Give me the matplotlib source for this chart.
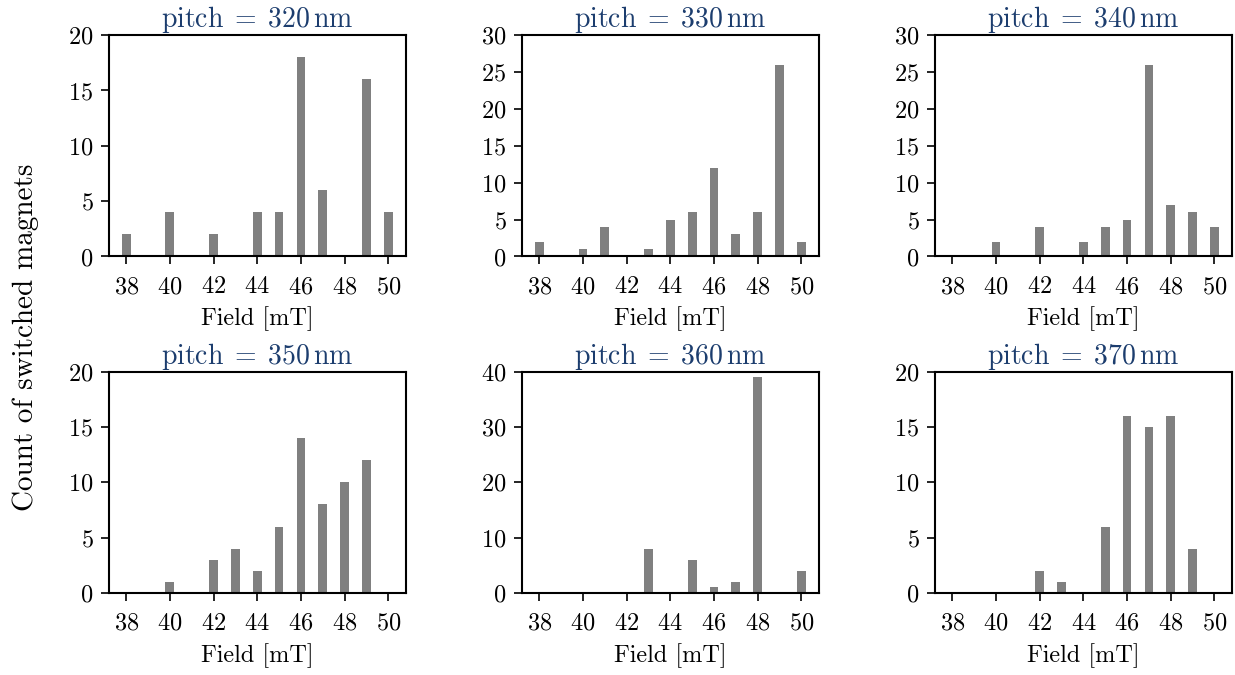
import numpy as np
import matplotlib
matplotlib.use("Agg")
import matplotlib.pyplot as plt

# field values [mT]
fields = np.arange(38, 51)

# counts of switched magnets per pitch (fields 38..50)
counts_320 = [2, 0, 4, 0, 2, 0, 4, 4, 18, 6, 0, 16, 4]
counts_330 = [2, 0, 1, 4, 0, 1, 5, 6, 12, 3, 6, 26, 2]
counts_340 = [0, 0, 2, 0, 4, 0, 2, 4, 5, 26, 7, 6, 4]
counts_350 = [0, 0, 1, 0, 3, 4, 2, 6, 14, 8, 10, 12, 0]
counts_360 = [0, 0, 0, 0, 0, 8, 0, 6, 1, 2, 39, 0, 4]
counts_370 = [0, 0, 0, 0, 2, 1, 0, 6, 16, 15, 16, 4, 0]

pitches = [320, 330, 340, 350, 360, 370]
all_counts = [counts_320, counts_330, counts_340, counts_350, counts_360, counts_370]
y_limits = [20, 30, 30, 20, 40, 20]
y_steps = [5, 5, 5, 5, 10, 5]

plt.rcParams['font.family'] = 'serif'
plt.rcParams['font.serif'] = ['cmr10', 'DejaVu Serif']
plt.rcParams['mathtext.fontset'] = 'cm'
plt.rcParams['axes.formatter.use_mathtext'] = True
plt.rcParams['font.size'] = 17.5

fig, axes = plt.subplots(2, 3, figsize=(12.35, 6.75), dpi=100)
fig.subplots_adjust(left=0.088, right=0.9975, top=0.948, bottom=0.1215,
                    wspace=0.39, hspace=0.52)

for ax, pitch, counts, ymax, step in zip(axes.flat, pitches, all_counts, y_limits, y_steps):
    ax.bar(fields, counts, width=0.4, color='gray')
    ax.set_xlim(37.2, 50.8)
    ax.set_ylim(0, ymax)
    ax.set_xticks(np.arange(38, 51, 2))
    ax.set_yticks(np.arange(0, ymax + 1, step))
    ax.set_xlabel('Field [mT]', labelpad=6)
    ax.set_title(r'$\mathrm{pitch}\;=\;%d\,\mathrm{nm}$' % pitch, color='#1c3d6e',
                 fontsize=20, pad=4)
    ax.tick_params(direction='out', length=6, width=1.2, pad=5)
    ax.tick_params(axis='x', pad=8)
    for s in ax.spines.values():
        s.set_linewidth(1.5)

fig.supylabel('Count of switched magnets', x=0.01)

fig.savefig('out.png', dpi=100)
